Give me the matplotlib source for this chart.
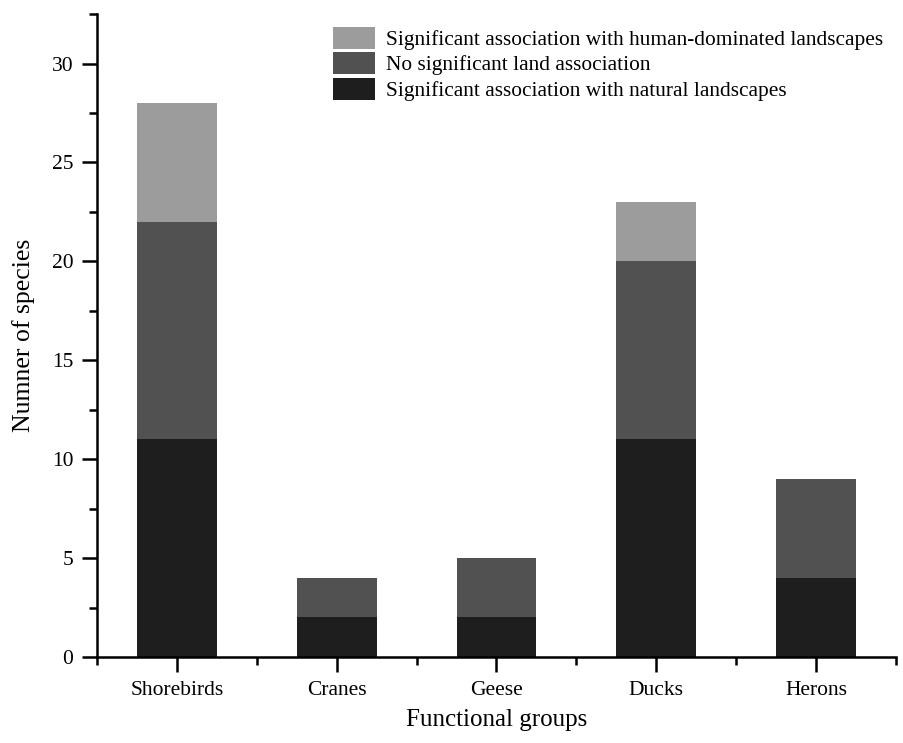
import matplotlib.pyplot as plt
import numpy as np
from matplotlib.ticker import MultipleLocator

plt.rcParams['font.family'] = ['Liberation Serif', 'DejaVu Serif']

groups = ['Shorebirds', 'Cranes', 'Geese', 'Ducks', 'Herons']
natural = [11, 2, 2, 11, 4]
no_assoc = [11, 2, 3, 9, 5]
human = [6, 0, 0, 3, 0]

labels = ['Significant association with human-dominated landscapes',
          'No significant land association',
          'Significant association with natural landscapes']
colors = ['#9c9c9c', '#515151', '#1e1e1e']

fig = plt.figure(figsize=(9.04, 7.43), dpi=100)
ax = fig.add_axes([0.1073, 0.1157, 0.8838, 0.8653])

x = np.arange(len(groups))
natural = np.array(natural)
no_assoc = np.array(no_assoc)
human = np.array(human)

b1 = ax.bar(x, natural, width=0.5, color=colors[2], label=labels[2])
b2 = ax.bar(x, no_assoc, width=0.5, bottom=natural, color=colors[1], label=labels[1])
b3 = ax.bar(x, human, width=0.5, bottom=natural + no_assoc, color=colors[0], label=labels[0])

ax.set_xlim(-0.5, 4.5)
ax.set_ylim(0, 32.5)
ax.set_xticks(x)
ax.set_xticklabels(groups)
ax.xaxis.set_minor_locator(MultipleLocator(1, offset=0.5))
ax.yaxis.set_major_locator(MultipleLocator(5))
ax.yaxis.set_minor_locator(MultipleLocator(2.5))

for s in ['top', 'right']:
    ax.spines[s].set_visible(False)
for s in ['left', 'bottom']:
    ax.spines[s].set_linewidth(1.8)

ax.tick_params(which='major', length=11, width=1.8, labelsize=15.5, pad=6)
ax.tick_params(which='minor', length=6, width=1.8)

ax.set_xlabel('Functional groups', fontsize=18, labelpad=7)
ax.set_ylabel('Numner of species', fontsize=18.5, labelpad=12)

ax.legend([b3, b2, b1], labels, loc='upper right', bbox_to_anchor=(1.0, 1.0),
          frameon=False, fontsize=15.4, handlelength=2.0, handleheight=1.2,
          labelspacing=0.1, handletextpad=0.5, borderaxespad=0.2)

fig.savefig('out.png', dpi=100)
